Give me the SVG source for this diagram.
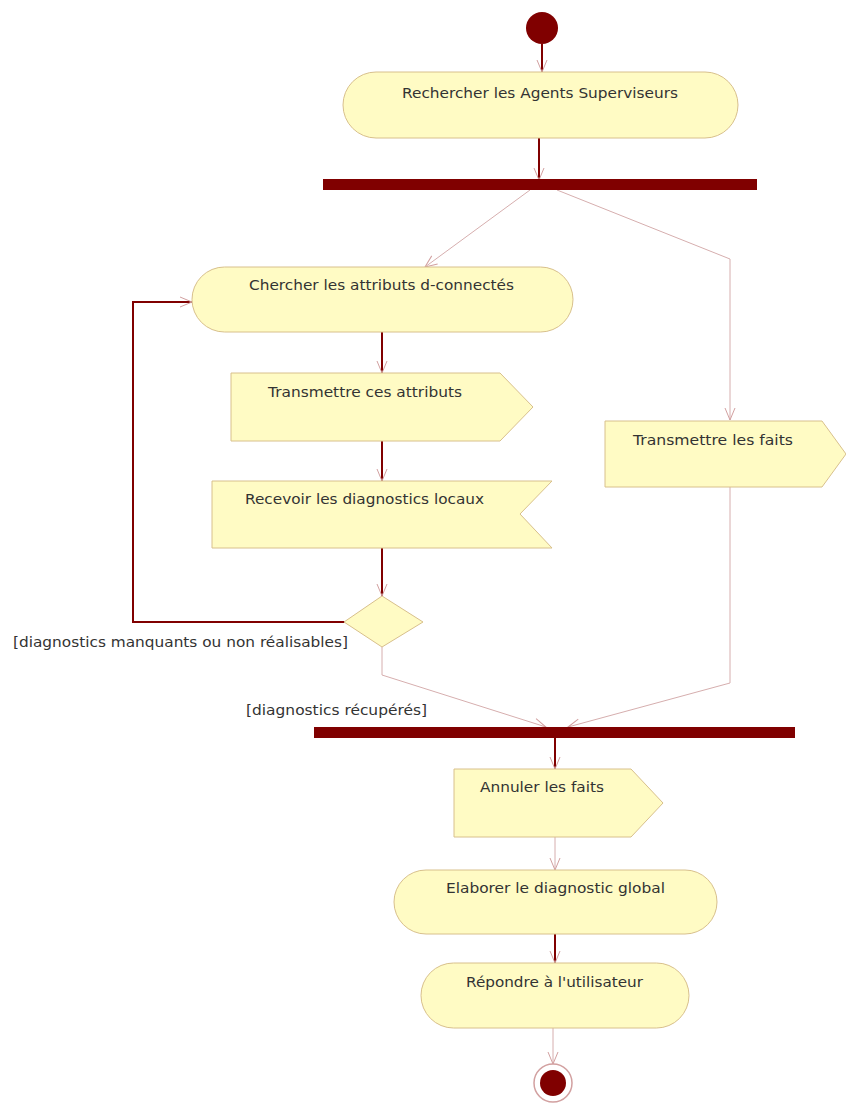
<svg xmlns="http://www.w3.org/2000/svg" width="846" height="1103" viewBox="0 0 846 1103">
  <style>
    .act { fill: #fffbc4; stroke: #d8c08c; stroke-width: 1; }
    .bar { fill: #800000; }
    .dot { fill: #800000; }
    .lbl { font-family: "DejaVu Sans", "Liberation Sans", sans-serif; font-size: 14px; fill: #333333; }
    .strong { fill: none; stroke: #800000; stroke-width: 2; }
    .thin { fill: none; stroke: #d6aeae; stroke-width: 1; }
  </style>
  <defs>
    <marker id="arrow" markerUnits="userSpaceOnUse" markerWidth="14" markerHeight="14" viewBox="0 0 14 14" refX="13" refY="7" orient="auto">
      <path d="M1,2 L13,7 L1,12" fill="none" stroke="#d2a0a0" stroke-width="1"/>
    </marker>
  </defs>

  <!-- connectors -->
  <g id="connectors">
    <path class="strong" d="M542,44 V72" marker-end="url(#arrow)"/>
    <path class="strong" d="M539,138 V180" marker-end="url(#arrow)"/>
    <path class="thin" d="M530,190 L425,267" marker-end="url(#arrow)"/>
    <path class="thin" d="M557,190 L730,259 V420" marker-end="url(#arrow)"/>
    <path class="strong" d="M382,332 V373" marker-end="url(#arrow)"/>
    <path class="strong" d="M382,441 V481" marker-end="url(#arrow)"/>
    <path class="strong" d="M382,548 V596" marker-end="url(#arrow)"/>
    <path class="strong" d="M345,622 H133 V302 H192" marker-end="url(#arrow)"/>
    <path class="thin" d="M382,647 V675 L546,727" marker-end="url(#arrow)"/>
    <path class="thin" d="M730,487 V683 L568,727" marker-end="url(#arrow)"/>
    <path class="strong" d="M555,738 V769" marker-end="url(#arrow)"/>
    <path class="thin" d="M555,837 V870" marker-end="url(#arrow)"/>
    <path class="strong" d="M555,934 V963" marker-end="url(#arrow)"/>
    <path class="thin" d="M553,1028 V1064" marker-end="url(#arrow)"/>
  </g>

  <g id="start">
    <circle class="dot" cx="542" cy="28" r="16"/>
  </g>

  <g id="rechercher">
    <rect class="act" x="343" y="72" width="395" height="66" rx="33" ry="33"/>
    <text class="lbl" x="402" y="98" textLength="276" lengthAdjust="spacingAndGlyphs">Rechercher les Agents Superviseurs</text>
  </g>

  <g id="fork">
    <rect class="bar" x="323" y="179" width="434" height="11"/>
  </g>

  <g id="chercher">
    <rect class="act" x="192" y="267" width="381" height="65" rx="32.5" ry="32.5"/>
    <text class="lbl" x="249" y="290" textLength="265" lengthAdjust="spacingAndGlyphs">Chercher les attributs d-connectés</text>
  </g>

  <g id="transmettre-attributs">
    <polygon class="act" points="231,373 500,373 533,407 500,441 231,441"/>
    <text class="lbl" x="268" y="397" textLength="194" lengthAdjust="spacingAndGlyphs">Transmettre ces attributs</text>
  </g>

  <g id="recevoir">
    <polygon class="act" points="212,481 552,481 520,514 552,548 212,548"/>
    <text class="lbl" x="245" y="504" textLength="239" lengthAdjust="spacingAndGlyphs">Recevoir les diagnostics locaux</text>
  </g>

  <g id="decision">
    <polygon class="act" points="382,596 423,622 382,647 344,622"/>
    <text class="lbl" x="13" y="647" textLength="335" lengthAdjust="spacingAndGlyphs">[diagnostics manquants ou non réalisables]</text>
    <text class="lbl" x="246" y="715" textLength="181" lengthAdjust="spacingAndGlyphs">[diagnostics récupérés]</text>
  </g>

  <g id="transmettre-faits">
    <polygon class="act" points="605,421 822,421 846,454 822,487 605,487"/>
    <text class="lbl" x="633" y="445" textLength="160" lengthAdjust="spacingAndGlyphs">Transmettre les faits</text>
  </g>

  <g id="join">
    <rect class="bar" x="314" y="727" width="481" height="11"/>
  </g>

  <g id="annuler">
    <polygon class="act" points="454,769 631,769 663,803 631,837 454,837"/>
    <text class="lbl" x="480" y="792" textLength="124" lengthAdjust="spacingAndGlyphs">Annuler les faits</text>
  </g>

  <g id="elaborer">
    <rect class="act" x="394" y="870" width="323" height="64" rx="32" ry="32"/>
    <text class="lbl" x="446" y="893" textLength="219" lengthAdjust="spacingAndGlyphs">Elaborer le diagnostic global</text>
  </g>

  <g id="repondre">
    <rect class="act" x="421" y="963" width="268" height="65" rx="32.5" ry="32.5"/>
    <text class="lbl" x="466" y="987" textLength="177" lengthAdjust="spacingAndGlyphs">Répondre à l'utilisateur</text>
  </g>

  <g id="end">
    <circle cx="553" cy="1083" r="19" fill="#ffffff" stroke="#d2a0a0" stroke-width="1.5"/>
    <circle class="dot" cx="553" cy="1083" r="13"/>
  </g>
</svg>
